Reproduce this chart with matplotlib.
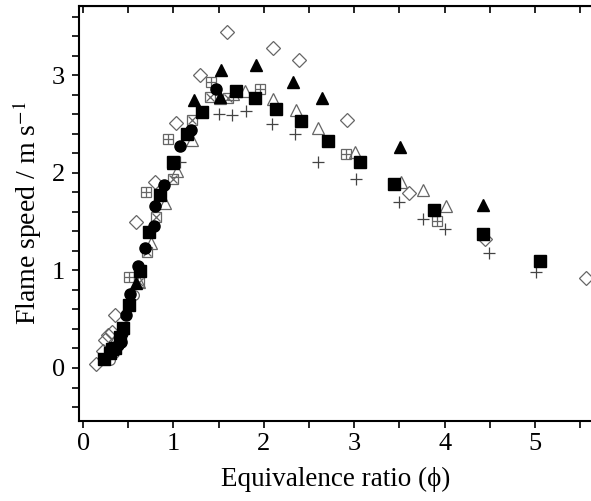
import matplotlib
matplotlib.use("Agg")
import matplotlib.pyplot as plt
from matplotlib.ticker import MultipleLocator

plt.rcParams['font.family'] = ['Liberation Serif', 'DejaVu Serif']
plt.rcParams['mathtext.fontset'] = 'stix'

# filled squares
sq_x = [0.23, 0.30, 0.32, 0.35, 0.41, 0.44, 0.51, 0.63, 0.73, 0.85, 1.00, 1.15, 1.32, 1.69, 1.90, 2.13, 2.41, 2.71, 3.06, 3.44, 3.88, 4.42, 5.06]
sq_y = [0.09, 0.15, 0.19, 0.20, 0.32, 0.41, 0.65, 0.99, 1.39, 1.77, 2.11, 2.40, 2.62, 2.84, 2.77, 2.65, 2.53, 2.33, 2.11, 1.89, 1.62, 1.37, 1.10]
# filled circles
ci_x = [0.39, 0.42, 0.43, 0.48, 0.52, 0.61, 0.68, 0.79, 0.80, 0.89, 1.07, 1.19, 1.47]
ci_y = [0.24, 0.27, 0.36, 0.54, 0.76, 1.05, 1.23, 1.45, 1.66, 1.88, 2.27, 2.44, 2.86]
# filled triangles
ft_x = [0.59, 1.00, 1.23, 1.51, 1.53, 1.91, 2.32, 2.64, 3.51, 4.42]
ft_y = [0.87, 2.10, 2.75, 2.78, 3.05, 3.10, 2.93, 2.77, 2.26, 1.67]
# open triangles
ot_x = [0.62, 0.75, 0.91, 1.04, 1.20, 1.51, 1.66, 1.79, 2.10, 2.35, 2.60, 3.01, 3.52, 3.76, 4.02]
ot_y = [0.88, 1.28, 1.69, 2.02, 2.34, 2.77, 2.81, 2.84, 2.76, 2.64, 2.46, 2.21, 1.91, 1.82, 1.66]
# open diamonds
di_x = [0.14, 0.22, 0.24, 0.28, 0.32, 0.35, 0.59, 0.80, 1.03, 1.29, 1.59, 2.10, 2.39, 2.92, 3.60, 4.45, 5.56]
di_y = [0.04, 0.17, 0.29, 0.34, 0.37, 0.54, 1.50, 1.91, 2.51, 3.00, 3.44, 3.28, 3.16, 2.54, 1.79, 1.32, 0.92]
# plus
pl_x = [1.07, 1.50, 1.65, 1.80, 2.09, 2.34, 2.60, 3.02, 3.50, 3.76, 4.00, 4.49, 5.01]
pl_y = [2.11, 2.60, 2.59, 2.63, 2.50, 2.40, 2.11, 1.94, 1.70, 1.53, 1.42, 1.18, 0.98]
# squares with plus
sp_x = [0.51, 0.70, 0.94, 1.42, 1.96, 2.91, 3.91]
sp_y = [0.93, 1.80, 2.35, 2.93, 2.86, 2.19, 1.51]
# squares with cross
sx_x = [0.62, 0.71, 0.81, 1.00, 1.21, 1.40, 1.60]
sx_y = [0.88, 1.19, 1.55, 1.94, 2.54, 2.78, 2.77]
# open circles
oc_x = [0.30, 0.34, 0.56]
oc_y = [0.08, 0.15, 0.75]

fig = plt.figure(figsize=(5.91, 5.01), dpi=100)
ax = fig.add_axes([0.1337, 0.1597, 0.8680, 0.8283])

gray = '#666666'
ax.plot(di_x, di_y, 'D', ms=7, mfc='none', mec=gray, mew=0.9, ls='none')
ax.plot(oc_x, oc_y, 'o', ms=7, mfc='none', mec=gray, mew=0.9, ls='none')
ax.plot(ot_x, ot_y, '^', ms=8.5, mfc='none', mec=gray, mew=0.9, ls='none')
ax.plot(sp_x, sp_y, 's', ms=7.5, mfc='none', mec=gray, mew=0.9, ls='none')
ax.plot(sp_x, sp_y, '+', ms=7.5, mec=gray, mew=0.9, ls='none')
ax.plot(sx_x, sx_y, 's', ms=7.5, mfc='none', mec=gray, mew=0.9, ls='none')
ax.plot(sx_x, sx_y, 'x', ms=5.3, mec=gray, mew=0.9, ls='none')
ax.plot(pl_x, pl_y, '+', ms=8, mec='#444444', mew=0.9, ls='none')
ax.plot(sq_x, sq_y, 's', ms=8, color='black', ls='none')
ax.plot(ci_x, ci_y, 'o', ms=8, color='black', ls='none')
ax.plot(ft_x, ft_y, '^', ms=8, color='black', ls='none')

ax.set_xlim(-0.045, 5.63)
ax.set_ylim(-0.543, 3.709)

ax.xaxis.set_major_locator(MultipleLocator(1))
ax.xaxis.set_minor_locator(MultipleLocator(0.5))
ax.yaxis.set_major_locator(MultipleLocator(1))
ax.yaxis.set_minor_locator(MultipleLocator(0.2))

for s in ax.spines.values():
    s.set_linewidth(1.5)

ax.tick_params(axis='both', which='both', width=1.2, length=5, labelsize=19)
ax.tick_params(axis='x', which='both', direction='out', top=False, pad=4)
ax.tick_params(axis='y', which='both', direction='out', right=False, pad=5)

sec = ax.secondary_xaxis('top')
sec.xaxis.set_major_locator(MultipleLocator(1))
sec.xaxis.set_minor_locator(MultipleLocator(0.5))
sec.tick_params(axis='x', which='both', direction='in', length=5, width=1.2, labeltop=False)

ax.set_xlabel('Equivalence ratio (\u03d5)', fontsize=19.5, labelpad=8)
ax.set_ylabel('Flame speed / m s$^{-1}$', fontsize=20, labelpad=6)

fig.savefig('out.png', dpi=100)
